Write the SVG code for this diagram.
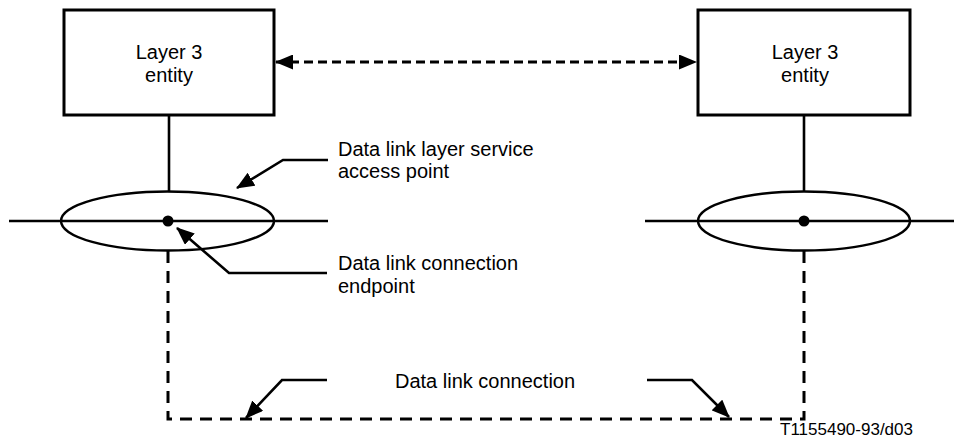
<svg xmlns="http://www.w3.org/2000/svg" width="954" height="439" viewBox="0 0 954 439">
<defs>
<marker id="ah" viewBox="0 0 18 15" refX="17" refY="7.5" markerWidth="18" markerHeight="15" markerUnits="userSpaceOnUse" orient="auto-start-reverse">
<path d="M0,0 L18,7.5 L0,15 Z" fill="#000"/>
</marker>
</defs>
<style>
.box{fill:#fff;stroke:#000;stroke-width:3}
.ln{fill:none;stroke:#000;stroke-width:2.6}
.dash{fill:none;stroke:#000;stroke-width:3;stroke-dasharray:12 8}
.dash2{fill:none;stroke:#000;stroke-width:2.8;stroke-dasharray:9 5}
.ell{fill:none;stroke:#000;stroke-width:2.4}
text{font-family:"Liberation Sans",Arial,sans-serif;font-size:20px;fill:#000}
.mid{text-anchor:middle}
.small{font-size:17px}
</style>
<g id="connectors">
<line class="dash2" x1="276" y1="62" x2="696" y2="62" marker-start="url(#ah)" marker-end="url(#ah)"/>
<line class="ln" x1="169" y1="115" x2="169" y2="191"/>
<line class="ln" x1="804" y1="115" x2="804" y2="191"/>
<line class="ln" x1="9" y1="221" x2="328" y2="221"/>
<line class="ln" x1="645" y1="221" x2="954" y2="221"/>
<path class="dash" d="M168,251 L168,419 L804,419 L804,251"/>
<polyline class="ln" points="328,160 283,160 237,188" marker-end="url(#ah)"/>
<polyline class="ln" points="327,273 229,273 177,228" marker-end="url(#ah)"/>
<polyline class="ln" points="327,380 282,380 246,418" marker-end="url(#ah)"/>
<polyline class="ln" points="647,380 692,380 729,417" marker-end="url(#ah)"/>
</g>
<g id="entity-left">
<rect class="box" x="64" y="10" width="210" height="105"/>
<text class="mid" x="169" y="58.5">Layer 3</text>
<text class="mid" x="169" y="81.5">entity</text>
</g>
<g id="entity-right">
<rect class="box" x="698" y="10" width="212" height="105"/>
<text class="mid" x="805" y="58.5">Layer 3</text>
<text class="mid" x="805" y="81.5">entity</text>
</g>
<g id="sap-left">
<ellipse class="ell" cx="167.5" cy="221" rx="106.5" ry="29.5"/>
<circle cx="168" cy="221" r="5.5" fill="#000"/>
</g>
<g id="sap-right">
<ellipse class="ell" cx="804" cy="221" rx="106" ry="29.5"/>
<circle cx="804" cy="221" r="5.5" fill="#000"/>
</g>
<g id="labels">
<text x="338" y="156">Data link layer service</text>
<text x="338" y="178">access point</text>
<text x="338" y="270">Data link connection</text>
<text x="338" y="293">endpoint</text>
<text x="395" y="388">Data link connection</text>
<text class="small" x="780" y="435">T1155490-93/d03</text>
</g>
</svg>
